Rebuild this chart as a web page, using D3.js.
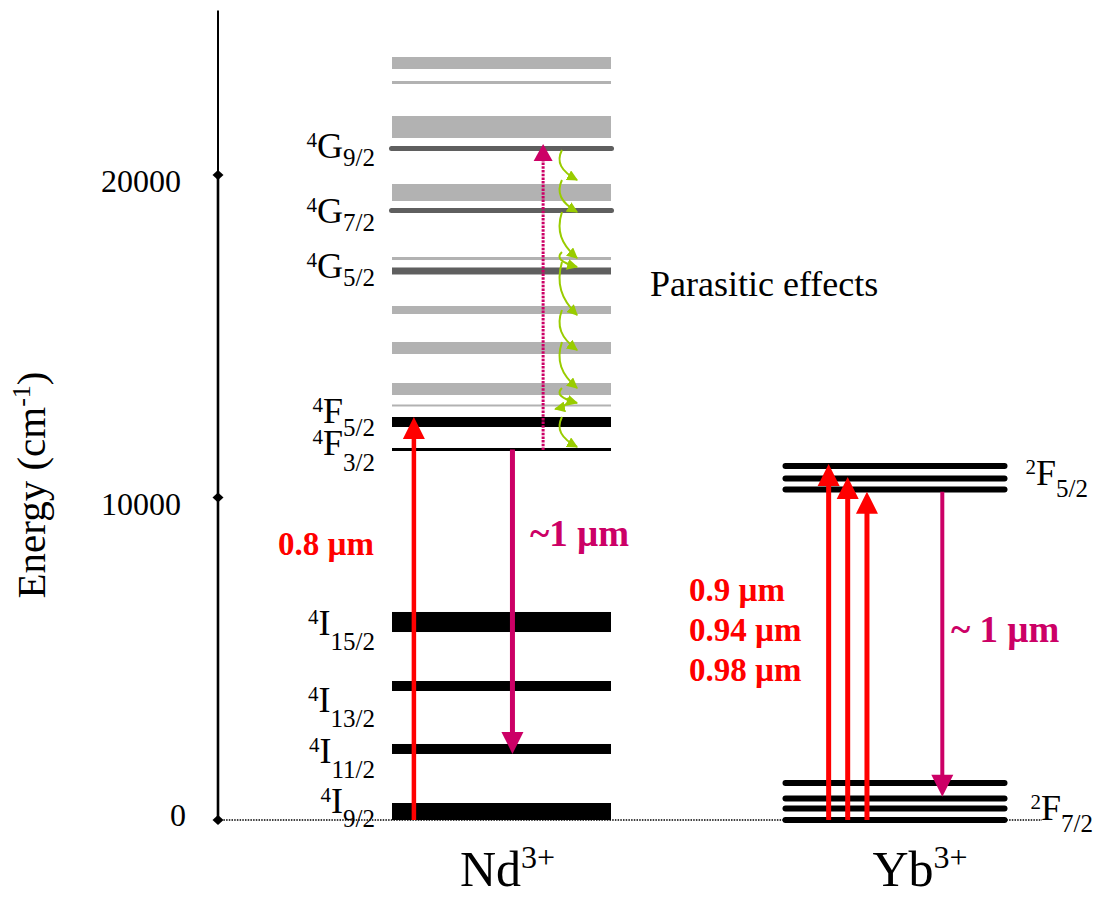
<!DOCTYPE html>
<html><head><meta charset="utf-8">
<script src="https://cdn.jsdelivr.net/npm/d3@7"></script>
<style>body{margin:0;background:#fff}svg{display:block}</style>
</head><body>
<svg id="chart" width="1099" height="901"></svg>
<script>
// ---------------- DATA ----------------
const ions = ["Nd", "Yb"];
const ionNames = ["Nd", "Yb"];
const ionCharges = ["3+", "3+"];
const yTicks = [0, 10000, 20000];
const yAxisTop = 25100;
const yTitle = "Energy (cm";
const yTitleSup = "-1";

// Nd3+ parasitic (unlabelled) levels, energy ranges in cm-1
const ndBandLow  = [23287, 22822, 21147, 19194, 17364, 15690, 14450, 13178, 12822];
const ndBandHigh = [23659, 22915, 21829, 19721, 17457, 15938, 14822, 13550, 12884];

// Nd3+ labelled levels
const ndStateMult   = ["4", "4", "4", "4", "4", "4", "4", "4", "4"];
const ndStateLetter = ["G", "G", "G", "F", "F", "I", "I", "I", "I"];
const ndStateJ      = ["9/2", "7/2", "5/2", "5/2", "3/2", "15/2", "13/2", "11/2", "9/2"];
const ndStateLow    = [20744, 18822, 16915, 12186, 11442, 5829, 4000, 2047, 0];
const ndStateHigh   = [20899, 18977, 17132, 12496, 11535, 6450, 4310, 2357, 527];
const ndStateGrey   = [true, true, true, false, false, false, false, false, false];

// Yb3+ Stark sub-levels (cm-1)
const ybUpper = [10977, 10589, 10248];   // 2F5/2
const ybLower = [1147, 667, 357, 0];     // 2F7/2
const ybManifoldMult = ["2", "2"];
const ybManifoldLetter = ["F", "F"];
const ybManifoldJ = ["5/2", "7/2"];

// Transitions (cm-1)
const ndPump = [0, 12496];
const ndEmission = [11488, 2047];
const ndUpconversion = [11473, 20961];
const ybPumpTo = [11039, 10636, 10180];
const ybEmission = [10180, 722];
// parasitic relaxation cascade (green curved arrows): from, to, direction
const cascadeFrom = [20775, 19845, 18853, 17612, 17302, 15814, 14822, 13395, 13085, 12496];
const cascadeTo   = [19845, 18853, 17426, 17147, 15659, 14574, 13395, 12930, 12744, 11566];
const cascadeDir  = [1, 1, 1, 1, 1, 1, 1, 1, -1, 1];

const ndPumpLabel = ["0.8 µm"];
const ndEmissionLabel = ["~1 µm"];
const ybPumpLabels = ["0.9 µm", "0.94 µm", "0.98 µm"];
const ybEmissionLabel = ["~ 1 µm"];
const parasiticLabel = "Parasitic effects";

// ---------------- LAYOUT ----------------
const serif = "'Liberation Serif','Times New Roman',Times,serif";
const RED = "#FF0000", MAG = "#CC0066", GREEN = "#99CC00", LGREY = "#B2B2B2", DGREY = "#5F5F5F";
const svg = d3.select("#chart");
const y = d3.scaleLinear().domain([0, 20000]).range([820, 175]);
const x = d3.scalePoint().domain(ions).range([501.5, 895]);
const half = 109.5;
const axisX = 218;
const colL = k => x(k) - half;
const colW = 2 * half;

// dotted baseline
svg.append("line").attr("x1", axisX).attr("x2", 1042).attr("y1", y(0)).attr("y2", y(0))
  .attr("stroke", "#000").attr("stroke-width", 1.4).attr("stroke-dasharray", "1.5,1.2");

// axis
svg.append("line").attr("x1", axisX).attr("x2", axisX).attr("y1", y(0)).attr("y2", y(20000))
  .attr("stroke", "#000").attr("stroke-width", 2.6);
svg.append("line").attr("x1", axisX).attr("x2", axisX).attr("y1", y(20000)).attr("y2", y(yAxisTop))
  .attr("stroke", "#000").attr("stroke-width", 2);
svg.selectAll(".tickm").data(yTicks).join("path")
  .attr("d", d => `M${axisX - 5.5},${y(d)} L${axisX},${y(d) - 5} L${axisX + 5.5},${y(d)} L${axisX},${y(d) + 5} Z`)
  .attr("fill", "#000");
svg.selectAll(".tickl").data(yTicks).join("text")
  .attr("x", d => d === 0 ? 186 : 181)
  .attr("y", d => y(d) + (d === 0 ? 6 : 17))
  .attr("text-anchor", "end").attr("font-family", serif).attr("font-size", 32)
  .text(d => d3.format("d")(d));

// y title
const yt = svg.append("text").attr("transform", "translate(45,485) rotate(-90)")
  .attr("text-anchor", "middle").attr("font-family", serif).attr("font-size", 41);
yt.append("tspan").text(yTitle);
yt.append("tspan").attr("font-size", 26).attr("dy", -15).text(yTitleSup);
yt.append("tspan").attr("dy", 15).text(")");

// Nd grey bands
const nL = colL("Nd");
svg.selectAll(".band").data(ndBandLow.map((lo, i) => [lo, ndBandHigh[i]])).join("rect")
  .attr("x", nL).attr("width", colW)
  .attr("y", d => y(d[1])).attr("height", d => y(d[0]) - y(d[1]))
  .attr("fill", LGREY);

// Nd labelled states
const ndStates = ndStateLow.map((lo, i) => ({lo, hi: ndStateHigh[i], grey: ndStateGrey[i], i}));
svg.selectAll(".state").data(ndStates).join("rect")
  .attr("x", d => d.i < 2 ? nL - 3 : nL)
  .attr("width", d => d.i < 2 ? colW + 6 : colW)
  .attr("rx", d => d.i < 2 ? 2.5 : 0)
  .attr("y", d => y(d.hi)).attr("height", d => y(d.lo) - y(d.hi))
  .attr("fill", d => d.grey ? DGREY : "#000");

// labels for Nd states
const ndLabelDy = [9.5, 12.5, 7, 1, 5.5, 13, 26, 14, 1];
const ndSubDy = [8, 8, 8, 13, 16, 15, 15, 15, 14];
function stateLabel(xp, yp, anchor, mult, letter, j, subDy) {
  const t = svg.append("text").attr("x", xp).attr("y", yp).attr("text-anchor", anchor)
    .attr("font-family", serif).attr("fill", "#000");
  t.append("tspan").attr("font-size", 21).attr("dy", -11).text(mult);
  t.append("tspan").attr("font-size", 36).attr("dy", 11).text(letter);
  t.append("tspan").attr("font-size", 25).attr("dy", subDy).text(j);
}
ndStates.forEach(d => {
  const yc = (y(d.lo) + y(d.hi)) / 2;
  stateLabel(375, yc + ndLabelDy[d.i], "end", ndStateMult[d.i], ndStateLetter[d.i], ndStateJ[d.i], ndSubDy[d.i]);
});

// Yb levels
const yL = colL("Yb");
svg.selectAll(".yb").data(ybUpper.concat(ybLower)).join("line")
  .attr("x1", yL).attr("x2", yL + colW).attr("y1", d => y(d)).attr("y2", d => y(d))
  .attr("stroke", "#000").attr("stroke-width", 6).attr("stroke-linecap", "round");
const ybGroups = [ybUpper, ybLower];
const ybLabelDy = [7, 17.5];
const ybLabelDx = [21, 26];
ybGroups.forEach((g, i) => {
  const yc = y(d3.mean(g));
  stateLabel(yL + colW + ybLabelDx[i], yc + ybLabelDy[i], "start", ybManifoldMult[i], ybManifoldLetter[i], ybManifoldJ[i], 12);
});

// vertical arrows
function vArrow(xp, e0, e1, color, w, hw, hl, dash) {
  const y0 = y(e0), y1 = y(e1), dir = Math.sign(y1 - y0);
  const ln = svg.append("line").attr("x1", xp).attr("x2", xp).attr("y1", y0).attr("y2", y1 - dir * (hl - 1))
    .attr("stroke", color).attr("stroke-width", w);
  if (dash) ln.attr("stroke-dasharray", dash);
  svg.append("path").attr("d", `M${xp},${y1} L${xp - hw / 2},${y1 - dir * hl} L${xp + hw / 2},${y1 - dir * hl} Z`)
    .attr("fill", color);
}
vArrow(nL + 0.1 * colW, ndPump[0], ndPump[1], RED, 4.5, 22, 22);
vArrow(nL + 0.55 * colW, ndEmission[0], ndEmission[1], MAG, 5, 22, 22);
vArrow(nL + 0.69 * colW, ndUpconversion[0], ndUpconversion[1], MAG, 3, 19, 17, "2.5,1.2");
const ybPumpFrac = [0.197, 0.284, 0.372];
ybPumpTo.forEach((e, i) => vArrow(yL + ybPumpFrac[i] * colW, 0, e, RED, 5, 22, 22));
vArrow(yL + 0.716 * colW, ybEmission[0], ybEmission[1], MAG, 4, 22, 22);

// green cascade arrows
const defs = svg.append("defs");
defs.append("marker").attr("id", "gh").attr("viewBox", "0 0 10 10").attr("refX", 9).attr("refY", 5)
  .attr("markerWidth", 11).attr("markerHeight", 11).attr("markerUnits", "userSpaceOnUse")
  .attr("orient", "auto").append("path").attr("d", "M0,0 L10,5 L0,10 Z").attr("fill", GREEN);
cascadeFrom.forEach((e0, i) => {
  const dir = cascadeDir[i];
  const ys = y(e0), ye = y(cascadeTo[i]), h = ye - ys;
  const x0 = dir > 0 ? nL + 0.776 * colW : nL + 0.80 * colW;
  const x1 = dir > 0 ? nL + 0.845 * colW : nL + 0.745 * colW;
  const p = d3.path();
  p.moveTo(x0, ys);
  if (dir > 0) p.bezierCurveTo(x0 - 6, ys + 0.4 * h, x0 - 1, ye - 0.3 * h, x1, ye);
  else p.bezierCurveTo(x0 + 3, ys + 0.4 * h, x0 - 2, ye - 0.2 * h, x1, ye);
  svg.append("path").attr("d", p.toString()).attr("fill", "none").attr("stroke", GREEN)
    .attr("stroke-width", 2).attr("marker-end", "url(#gh)");
});

// transition labels
function boldLabel(xp, yp, txt, color, size) {
  svg.append("text").attr("x", xp).attr("y", yp).attr("font-family", serif).attr("font-weight", "bold")
    .attr("font-size", size).attr("fill", color).text(txt);
}
boldLabel(278, 555, ndPumpLabel[0], RED, 33);
boldLabel(530, 546, ndEmissionLabel[0], MAG, 37);
ybPumpLabels.forEach((t, i) => boldLabel(689, 601 + i * 40, t, RED, 33));
boldLabel(951, 642, ybEmissionLabel[0], MAG, 37);

svg.append("text").attr("x", 650).attr("y", 296).attr("font-family", serif).attr("font-size", 36)
  .text(parasiticLabel);

// ion labels
const ionLabelDx = [6, 25];
ions.forEach((k, i) => {
  const t = svg.append("text").attr("x", x(k) + ionLabelDx[i]).attr("y", 886).attr("text-anchor", "middle")
    .attr("font-family", serif).attr("font-size", 50);
  t.append("tspan").text(ionNames[i]);
  t.append("tspan").attr("font-size", 32).attr("dy", -18).text(ionCharges[i]);
});
</script>
</body></html>
